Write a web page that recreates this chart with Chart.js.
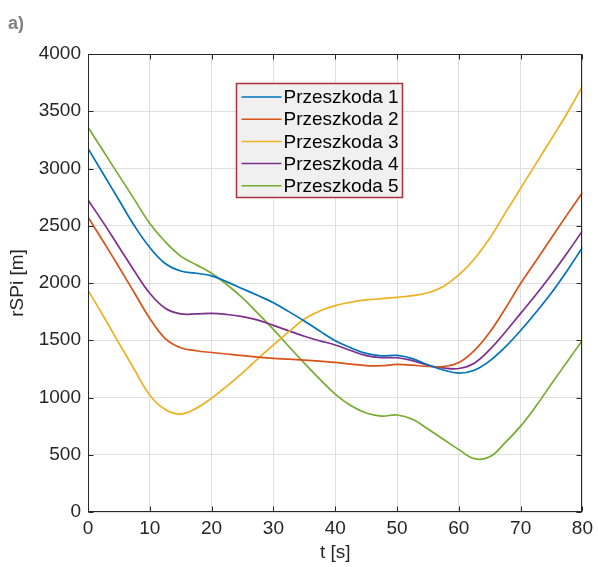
<!DOCTYPE html>
<html>
<head>
<meta charset="utf-8">
<style>
  html, body { margin: 0; padding: 0; background: #fff; }
  #wrap { width: 598px; height: 567px; }
</style>
<script src="https://cdn.jsdelivr.net/npm/chart.js@4.4.1/dist/chart.umd.min.js"></script>
</head>
<body>
<div id="wrap"><canvas id="chart" width="598" height="567"></canvas></div>
<script>
// Time axis samples (s), read every 2.5 s
const times = [0, 2.5, 5, 7.5, 10, 12.5, 15, 17.5, 20, 22.5, 25, 27.5, 30, 32.5, 35, 37.5, 40,
    42.5, 45, 47.5, 50, 52.5, 55, 57.5, 60, 62.5, 65, 67.5, 70, 72.5, 75, 77.5, 80];

// rSPi [m] for each obstacle
const p1 = [3175, 2950, 2725, 2500, 2310, 2170, 2105, 2085, 2062, 2010, 1950, 1890, 1828, 1750, 1668, 1580, 1496,
    1435, 1385, 1364, 1368, 1340, 1285, 1240, 1213, 1238, 1320, 1440, 1585, 1745, 1915, 2105, 2310];
const p2 = [2575, 2360, 2140, 1915, 1690, 1515, 1435, 1408, 1393, 1380, 1366, 1353, 1342, 1335, 1327, 1317, 1307,
    1292, 1278, 1278, 1289, 1282, 1272, 1270, 1305, 1410, 1570, 1775, 1995, 2195, 2395, 2595, 2790];
const p3 = [1935, 1710, 1475, 1245, 1020, 895, 855, 905, 995, 1100, 1215, 1340, 1460, 1575, 1685, 1755, 1802,
    1832, 1852, 1864, 1875, 1890, 1915, 1970, 2070, 2210, 2390, 2610, 2827, 3045, 3260, 3480, 3720];
const p4 = [2725, 2525, 2315, 2105, 1910, 1780, 1730, 1730, 1735, 1725, 1706, 1676, 1630, 1582, 1535, 1495, 1459,
    1410, 1366, 1348, 1347, 1322, 1282, 1258, 1253, 1300, 1418, 1570, 1735, 1900, 2075, 2260, 2455];
const p5 = [3360, 3150, 2940, 2730, 2520, 2360, 2235, 2160, 2085, 1985, 1870, 1735, 1595, 1445, 1300, 1160, 1030,
    930, 865, 838, 847, 810, 725, 635, 545, 466, 482, 605, 750, 925, 1120, 1310, 1500];

const seriesNames = ['Przeszkoda 1', 'Przeszkoda 2', 'Przeszkoda 3', 'Przeszkoda 4', 'Przeszkoda 5'];
const xTicks = [0, 10, 20, 30, 40, 50, 60, 70, 80];
const yTicks = [0, 500, 1000, 1500, 2000, 2500, 3000, 3500, 4000];

const colors = ['#0072BD', '#D95319', '#EDB120', '#7E2F8E', '#77AC30'];
const FONT = '"Liberation Sans", Arial, sans-serif';
const AXIS = '#262626';

const datasets = [p1, p2, p3, p4, p5].map((vals, i) => ({
    label: seriesNames[i],
    data: times.map((t, j) => ({ x: t, y: vals[j] })),
    borderColor: colors[i],
    borderWidth: 1.7,
    pointRadius: 0,
    tension: 0.4,
    fill: false
}));

// box, inward ticks, legend and panel letter in MATLAB style
const matlabFrame = {
    id: 'matlabFrame',
    afterDatasetsDraw(chart) {
        const { ctx, chartArea: a, scales: { x, y } } = chart;
        ctx.save();
        ctx.strokeStyle = AXIS;
        ctx.lineWidth = 1;
        const L = Math.round(a.left) + 0.5, R = Math.round(a.right) - 0.5;
        const T = Math.round(a.top) + 0.5, B = Math.round(a.bottom) - 0.5;
        ctx.strokeRect(L, T, R - L, B - T);
        ctx.beginPath();
        xTicks.forEach(v => {
            const px = Math.round(x.getPixelForValue(v)) + 0.5;
            ctx.moveTo(px, B); ctx.lineTo(px, B - 5);
            ctx.moveTo(px, T); ctx.lineTo(px, T + 5);
        });
        yTicks.forEach(v => {
            const py = Math.round(y.getPixelForValue(v)) + 0.5;
            ctx.moveTo(L, py); ctx.lineTo(L + 5, py);
            ctx.moveTo(R, py); ctx.lineTo(R - 5, py);
        });
        ctx.stroke();

        // legend box
        const lx = L + 148, ly = T + 29, lw = 166, lh = 114;
        ctx.fillStyle = '#f0f0f0';
        ctx.fillRect(lx, ly, lw, lh);
        ctx.strokeStyle = '#a8303f';
        ctx.lineWidth = 1.5;
        ctx.strokeRect(lx, ly, lw, lh);
        ctx.font = '19px ' + FONT;
        ctx.textBaseline = 'middle';
        ctx.textAlign = 'left';
        chart.data.datasets.forEach((ds, i) => {
            const ry = ly + 13.5 + i * 22.2;
            ctx.strokeStyle = ds.borderColor;
            ctx.lineWidth = 1.5;
            ctx.beginPath();
            ctx.moveTo(lx + 5, ry); ctx.lineTo(lx + 45, ry);
            ctx.stroke();
            ctx.fillStyle = '#000';
            ctx.fillText(ds.label, lx + 47, ry + 1);
        });

        // panel letter
        ctx.fillStyle = '#808080';
        ctx.font = 'bold 18px ' + FONT;
        ctx.textBaseline = 'alphabetic';
        ctx.fillText('a)', 8, 29);
        ctx.restore();
    }
};

new Chart(document.getElementById('chart'), {
    type: 'line',
    data: { datasets },
    options: {
        responsive: false,
        animation: false,
        layout: { padding: { left: 0, right: 13, top: 54, bottom: 0 } },
        plugins: { legend: { display: false }, tooltip: { enabled: false } },
        scales: {
            x: {
                type: 'linear',
                min: 0,
                max: 80,
                afterBuildTicks: s => { s.ticks = xTicks.map(v => ({ value: v })); },
                afterFit: s => { s.height = 55; },
                grid: { color: '#dfdfdf', drawTicks: false },
                border: { display: false },
                ticks: { color: AXIS, padding: 5, maxRotation: 0, font: { family: FONT, size: 19 } },
                title: {
                    display: true,
                    text: 't [s]',
                    color: AXIS,
                    padding: { top: 0, bottom: 3 },
                    font: { family: FONT, size: 19 }
                }
            },
            y: {
                min: 0,
                max: 4000,
                afterBuildTicks: s => { s.ticks = yTicks.map(v => ({ value: v })); },
                afterFit: s => { s.width = 88; },
                grid: { color: '#dfdfdf', drawTicks: false },
                border: { display: false },
                ticks: { color: AXIS, padding: 7, callback: v => String(v), font: { family: FONT, size: 19 } },
                title: {
                    display: true,
                    text: 'rSPi [m]',
                    color: AXIS,
                    padding: { top: 6, bottom: 0 },
                    font: { family: FONT, size: 19 }
                }
            }
        }
    },
    plugins: [matlabFrame]
});
</script>
</body>
</html>
